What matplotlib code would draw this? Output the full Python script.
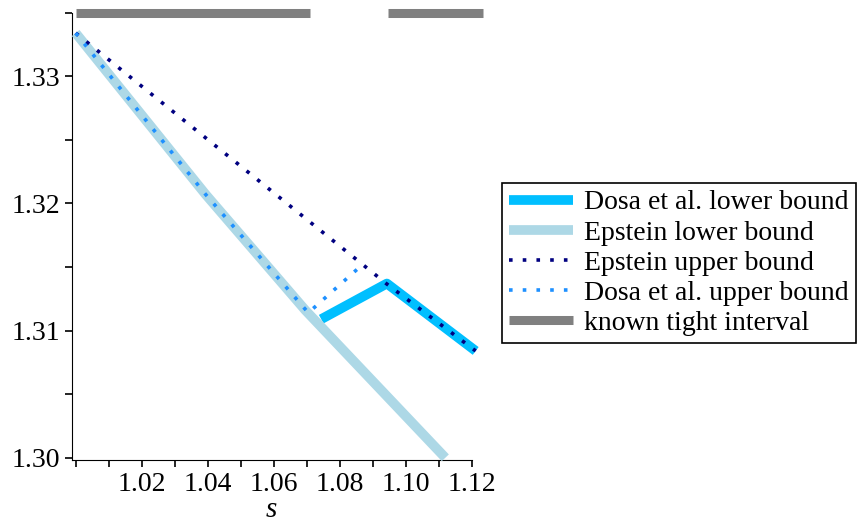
import numpy as np
import matplotlib
matplotlib.use("Agg")
from matplotlib import pyplot as plt

# values
epstein_lower_s = [1.0, 1.0394, 1.0696, 1.112]
epstein_lower_v = [1.3334, 1.3207, 1.3116, 1.3000]

dosa_lower_s = [1.0744, 1.0943, 1.1212]
dosa_lower_v = [1.3109, 1.3137, 1.3084]

epstein_upper_s = [1.0, 1.0941, 1.1212]
epstein_upper_v = [1.3334, 1.3137, 1.3084]

dosa_upper_s = [1.0, 1.0394, 1.0705, 1.0852]
dosa_upper_v = [1.3334, 1.3207, 1.3114, 1.3148]

tight_intervals = [(1.0, 1.0710), (1.0945, 1.1233)]
tight_level = 1.335

x_major = [1.02, 1.04, 1.06, 1.08, 1.10, 1.12]
y_major = [1.30, 1.31, 1.32, 1.33]

plt.rcParams['font.family'] = ['Liberation Serif', 'DejaVu Serif']

fig = plt.figure(figsize=(8.63, 5.28), dpi=100)
ax = fig.add_axes([0.0831, 0.1282, 0.5466 - 0.0831, 0.976 - 0.1282])

dot = (0, (1.0, 2.8))
ax.plot(dosa_lower_s, dosa_lower_v, color='#00BFFF', lw=7.0,
        solid_capstyle='butt', solid_joinstyle='round', zorder=2,
        clip_on=False, label='Dosa et al. lower bound')
ax.plot(epstein_lower_s, epstein_lower_v, color='#ADD8E6', lw=7.0,
        solid_capstyle='butt', zorder=3, clip_on=False,
        label='Epstein lower bound')
ax.plot(epstein_upper_s, epstein_upper_v, color='#000080', lw=2.6,
        linestyle=dot, zorder=4, clip_on=False, label='Epstein upper bound')
ax.plot(dosa_upper_s, dosa_upper_v, color='#1E90FF', lw=2.6,
        linestyle=dot, zorder=5, clip_on=False,
        label='Dosa et al. upper bound')
for i, (a, b) in enumerate(tight_intervals):
    ax.plot([a, b], [tight_level, tight_level], color='#808080', lw=6.5,
            solid_capstyle='butt', zorder=2, clip_on=False,
            label='known tight interval' if i == 0 else None)

ax.set_xlim(0.9988, 1.12)
ax.set_ylim(1.2998, 1.335)
ax.spines['top'].set_visible(False)
ax.spines['right'].set_visible(False)
ax.set_xticks(x_major)
ax.set_xticklabels([f'{v:.2f}' for v in x_major])
ax.set_xticks(np.arange(1.00, 1.115, 0.01), minor=True)
ax.set_yticks(y_major)
ax.set_yticklabels([f'{v:.2f}' for v in y_major])
ax.set_yticks([1.305, 1.315, 1.325, 1.335], minor=True)
ax.tick_params(which='both', labelsize=20, length=5, width=1.2)
ax.set_xlabel('s', fontsize=21, fontstyle='italic', labelpad=0)

leg = ax.legend(loc='upper left', bbox_to_anchor=(502 / 863, 1 - 183 / 528),
                bbox_transform=fig.transFigure, fontsize=20, frameon=True,
                fancybox=False, edgecolor='black', framealpha=1,
                handlelength=2.3, handletextpad=0.4, labelspacing=0.17,
                borderpad=0.25, borderaxespad=0)
leg.get_frame().set_linewidth(1.2)

fig.savefig('out.png', dpi=100)
